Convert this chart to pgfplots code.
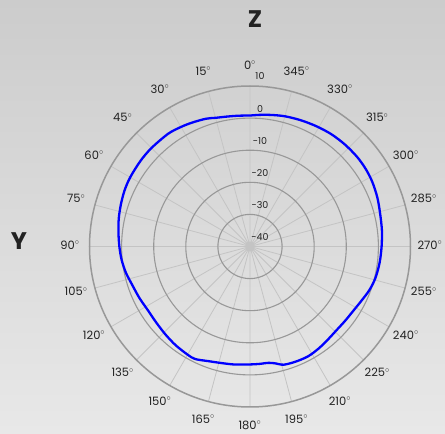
\documentclass[border=0pt]{standalone}
\usepackage{pgfplots}
\usepackage{pgfplotstable}
\pgfplotsset{compat=1.18}
\usepgfplotslibrary{polar}
\usepackage{fontspec}
\setmainfont{Poppins}

\definecolor{ring}{RGB}{152,152,152}
\definecolor{spoke}{RGB}{196,196,196}
\definecolor{txt}{RGB}{34,34,34}

% angle as labelled (0 at top, counter-clockwise), level in dB
\pgfplotstableread{
theta db
0 0.8
5 0.9
10 1.1
15 1.5
19 2.1
25 2.6
30 3.0
36 3.4
45 3.4
52 3.3
60 3.1
66 2.8
72 2.3
78 1.8
84 1.2
90 0.7
96 0.2
102 -0.5
108 -1.4
115 -2.0
122 -2.5
129 -2.4
136 -2.0
143 -1.5
150 -1.1
154 -1.0
160 -2.0
166 -2.6
172 -2.9
178 -3.2
184 -3.3
189 -3.3
192 -2.8
196 -1.7
202 -1.4
208 -1.3
214 -1.7
220 -2.2
226 -2.5
232 -2.4
238 -2.1
244 -1.4
250 -0.4
256 0.3
263 0.7
270 1.0
277 1.4
284 1.8
291 2.5
298 3.1
304 3.4
310 3.5
317 3.4
324 3.2
331 2.8
338 2.4
345 2.0
351 1.5
356 1.1
360 0.8
}\gaindata

\begin{document}
\begin{tikzpicture}
\shade[top color=black!20, bottom color=black!9] (0pt,0pt) rectangle (445pt,434pt);

\begin{polaraxis}[
    at={(250pt,187.5pt)}, anchor=center,
    width=321pt, height=321pt, scale only axis,
    xmin=0, xmax=360,
    ymin=0, ymax=50,
    xtick={0,15,...,345},
    ytick={10,20,30,40},
    xticklabels={}, yticklabels={},
    major tick length=0pt,
    xmajorgrids, ymajorgrids,
    major x grid style={color=spoke, line width=0.8pt},
    major y grid style={color=ring, line width=1.1pt},
    x axis line style={color=ring, line width=1.5pt},
    y axis line style={draw=none},
    clip=false,
]
\addplot[color=blue, line width=2.3pt, smooth, tension=0.5]
    table[x expr=\thisrow{theta}+90, y expr=\thisrow{db}+40] {\gaindata};
\end{polaraxis}

% radial level labels along the 0 degree line
\begin{scope}[font=\fontsize{9.5}{10}\selectfont, text=txt]
\node at (260pt,197pt) {-40};
\node at (260pt,229.1pt) {-30};
\node at (260pt,261.2pt) {-20};
\node at (260pt,293.3pt) {-10};
\node at (260pt,325.4pt) {0};
\node at (260pt,357.5pt) {10};
\end{scope}

% angle labels
\foreach \t in {0,15,...,345}
  \node[font=\fontsize{11.5}{12}\selectfont, text=txt]
    at ([shift={(\t+90:180pt)}]250pt,189pt) {\t$^{\circ}$};

\node[font=\fontsize{24}{24}\selectfont\bfseries, text=txt] at (255pt,415pt) {Z};
\node[font=\fontsize{24}{24}\selectfont\bfseries, text=txt] at (19pt,193pt) {Y};

\pgfresetboundingbox
\useasboundingbox (0pt,0pt) rectangle (445pt,434pt);
\end{tikzpicture}
\end{document}
